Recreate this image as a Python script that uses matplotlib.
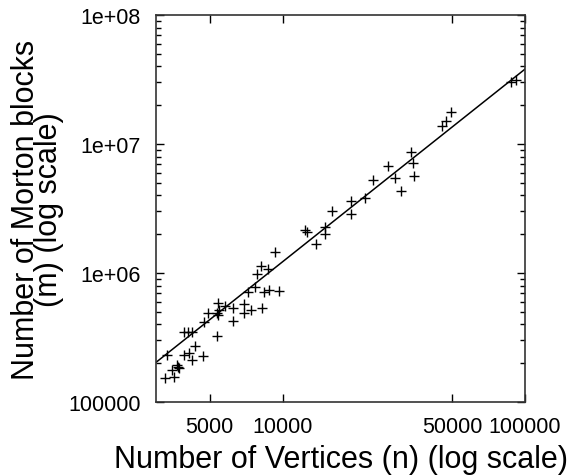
import matplotlib
matplotlib.use("Agg")
import matplotlib.pyplot as plt
from matplotlib.ticker import FixedLocator, LogLocator, NullLocator, NullFormatter

plt.rcParams['font.family'] = ['Liberation Sans', 'DejaVu Sans']

# measured points (vertices n, Morton blocks m)
vertices = [3258, 3571, 3492, 3651, 3686, 3722, 3330, 3915, 4116, 4212,
            4675, 4333, 3915, 4053, 4212, 5341, 4747, 4904, 5357, 5392,
            5392, 5475, 5796, 6253, 6253, 6904, 6942, 7421, 8239, 7213,
            7664, 8396, 8777, 9655, 7811, 8161, 8673, 9323, 12364, 12565,
            13686, 14881, 14980, 15902, 19085, 19050, 21918, 23586, 27132, 29076,
            30780, 33906, 34330, 34890, 45574, 47223, 49378, 87540, 91540]
blocks = [154300, 156200, 178000, 193500, 185800, 182500, 231400, 231400, 239800, 212800,
          226200, 273200, 347000, 347000, 347000, 326600, 414700, 489700, 489700, 472500,
          585300, 519400, 551900, 532500, 426700, 575000, 489700, 519400, 535400, 716100,
          774600, 716100, 742100, 721300, 987600, 1139000, 1074000, 1447000, 2154000, 2068000,
          1678000, 2261000, 1995000, 3040000, 3603000, 2851000, 3800000, 5289000, 6788000, 5422000,
          4345000, 8715000, 7125000, 5700000, 13720000, 15000000, 17860000, 30080000, 31510000]

# fitted line end points
fit_n = [3000, 100000]
fit_m = [2.03e5, 3.81e7]

x_ticks = [5000, 10000, 50000, 100000]
x_labels = ['5000', '10000', '50000', '100000']
y_ticks = [1e5, 1e6, 1e7, 1e8]
y_labels = ['100000', '1e+06', '1e+07', '1e+08']

fig = plt.figure(figsize=(5.74, 4.77), dpi=100)
ax = fig.add_axes([0.2718, 0.1551, 0.6429, 0.8113])

ax.plot(fit_n, fit_m, color='black', linewidth=1.1)
ax.plot(vertices, blocks, linestyle='none', marker='+', markersize=7,
        markeredgewidth=1.0, color='black')

ax.set_xscale('log')
ax.set_yscale('log')
ax.set_xlim(3000, 100000)
ax.set_ylim(1e5, 1e8)

ax.xaxis.set_major_locator(FixedLocator(x_ticks))
ax.xaxis.set_minor_locator(NullLocator())
ax.set_xticklabels(x_labels)
ax.yaxis.set_major_locator(FixedLocator(y_ticks))
ax.yaxis.set_minor_locator(LogLocator(base=10, subs=range(2, 10)))
ax.yaxis.set_minor_formatter(NullFormatter())
ax.set_yticklabels(y_labels)

ax.tick_params(which='both', direction='in', top=True, right=True,
               labelsize=15.5, width=1.0)
ax.tick_params(which='major', length=6)
ax.tick_params(which='minor', length=3.5)
ax.tick_params(axis='x', pad=10)
ax.tick_params(axis='y', pad=11)

for s in ax.spines.values():
    s.set_linewidth(1.2)
    s.set_color('#333333')

fig.text(0.594, 0.036, 'Number of Vertices (n) (log scale)', fontsize=22,
         ha='center', va='center')
fig.text(0.066, 0.56, 'Number of Morton blocks\n(m) (log scale)', fontsize=22,
         rotation=90, ha='center', va='center', multialignment='center',
         linespacing=0.7)

fig.savefig('out.png', dpi=100)
